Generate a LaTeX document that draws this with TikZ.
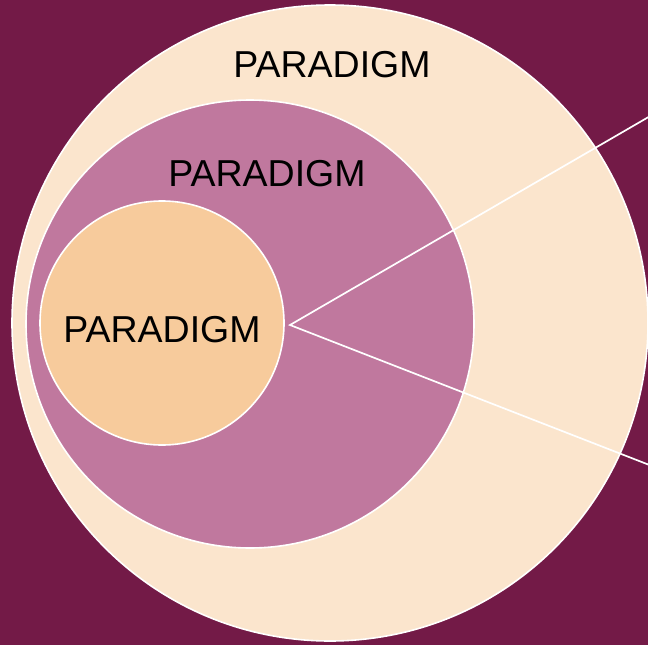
\documentclass[tikz,border=0pt]{standalone}
\usepackage{fontspec}
\setmainfont{Liberation Sans}
\definecolor{bgc}{HTML}{731A47}
\definecolor{outerc}{HTML}{FBE5CD}
\definecolor{midc}{HTML}{C0789E}
\definecolor{innerc}{HTML}{F7CB9C}
\tikzset{
  ring/.style={draw=white, line width=1.6pt},
  lbl/.style={font=\fontsize{37.5}{42}\selectfont, text=black, inner sep=0pt},
  ray/.style={draw=white, line width=1.7pt}
}
\begin{document}
\begin{tikzpicture}[x=1pt,y=-1pt]
\fill[bgc] (0,0) rectangle (648,645);
\useasboundingbox (0,0) rectangle (648,645);
\begin{scope}
\clip (0,0) rectangle (648,645);
\path[ring, fill=outerc] (330,323) circle[radius=318];
\path[ring, fill=midc] (250,324) circle[radius=224];
\path[ring, fill=innerc] (162,323) circle[radius=122];
\coordinate (apex) at (290,325);
\coordinate (up) at (652,115);
\coordinate (down) at (652,466);
\draw[ray] (up) -- (apex) -- (down);
\end{scope}
\node[lbl] (t1) at (332,65) {PARADIGM};
\node[lbl] (t2) at (267,174) {PARADIGM};
\node[lbl] (t3) at (162,330) {PARADIGM};
\end{tikzpicture}
\end{document}
